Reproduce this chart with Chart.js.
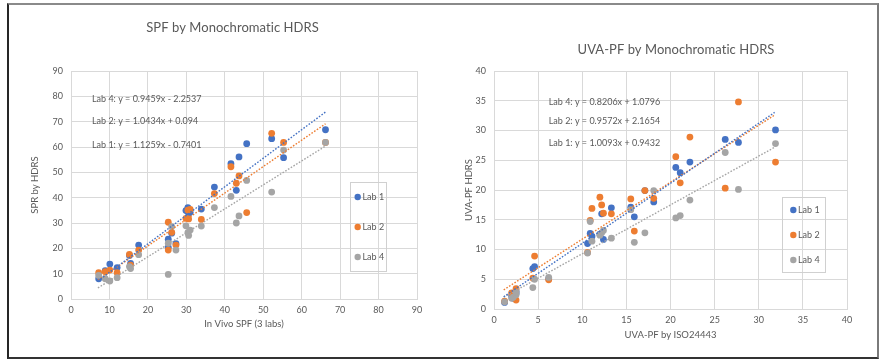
<!DOCTYPE html>
<html><head><meta charset="utf-8">
<script src="https://cdn.jsdelivr.net/npm/chart.js@4/dist/chart.umd.min.js"></script>
<style>
html,body{margin:0;padding:0;background:#fff;width:885px;height:362px;overflow:hidden;}
#frame{position:absolute;left:7px;top:3px;width:868px;height:352px;border-top:2px solid #8a8a8a;border-left:2px solid #262626;border-bottom:2px solid #333;border-right:2px solid #7a7a7a;}
#c1{position:absolute;left:0;top:0;}
#c2{position:absolute;left:443px;top:0;}
</style></head><body>
<div id="frame"></div>
<canvas id="c1" width="443" height="362"></canvas>
<canvas id="c2" width="442" height="362"></canvas>
<script>
// ---------- data: SPF chart ----------
const spfX    = [7.2, 8.9, 10.1, 12.0, 15.2, 15.5, 17.6, 25.3, 25.3, 26.2, 27.3, 29.9, 30.4, 30.6, 31.0, 33.9, 37.3, 41.6, 43.0, 43.7, 45.7, 52.2, 55.3, 66.2];
const spfLab1 = [8.0, 11.2, 13.8, 12.4, 17.2, 14.1, 21.3, 23.6, 20.4, 26.0, 21.8, 34.9, 36.1, 33.8, 34.2, 35.5, 44.2, 53.4, 42.9, 56.1, 61.3, 63.3, 55.8, 66.8];
const spfLab2 = [10.4, 10.8, 11.4, 10.4, 17.6, 13.4, 19.3, 30.3, 19.3, 26.3, 21.3, 31.8, 35.1, 31.6, 35.4, 31.4, 41.6, 52.2, 45.7, 48.6, 34.1, 65.4, 61.8, 61.8];
const spfLab4 = [9.3, 8.0, 7.1, 8.4, 12.8, 12.0, 17.5, 9.7, 22.0, 28.6, 19.3, 28.9, 26.2, 25.1, 27.2, 28.8, 36.1, 40.5, 30.0, 32.8, 46.8, 42.2, 58.8, 61.8];
const spfSlopes     = [1.1259, 1.0434, 0.9459];
const spfIntercepts = [-0.7401, 0.094, -2.2537];
const spfFitRange   = [7.0, 66.2];
const spfEquations  = ['Lab 4: y = 0.9459x - 2.2537', 'Lab 2: y = 1.0434x + 0.094', 'Lab 1: y = 1.1259x - 0.7401'];

// ---------- data: UVA-PF chart ----------
const uvaX    = [1.2, 2.0, 2.2, 2.5, 2.5, 4.4, 4.6, 6.2, 10.6, 10.9, 11.1, 12.0, 12.2, 12.4, 13.3, 15.5, 15.9, 17.1, 18.1, 20.6, 21.1, 22.2, 26.2, 27.7, 31.9];
const uvaLab1 = [1.1, 2.2, 1.8, 3.0, 2.6, 6.8, 7.1, 5.1, 11.0, 12.7, 12.2, 12.6, 16.0, 11.7, 17.0, 17.1, 15.5, 19.9, 18.0, 23.8, 22.9, 24.7, 28.5, 28.0, 30.1];
const uvaLab2 = [1.3, 2.7, 2.2, 3.4, 1.5, 5.2, 8.9, 4.9, 9.5, 14.9, 16.9, 18.8, 17.5, 16.1, 16.0, 18.5, 13.1, 19.9, 18.6, 25.6, 21.2, 28.9, 20.3, 34.8, 24.7];
const uvaLab4 = [1.2, 1.8, 2.0, 2.4, 2.8, 3.6, 5.0, 5.3, 9.4, 14.7, 11.4, 12.4, 12.8, 13.2, 11.9, 16.7, 11.2, 12.8, 19.9, 15.3, 15.7, 18.3, 26.3, 20.1, 27.8];
const uvaSlopes     = [1.0093, 0.9572, 0.8206];
const uvaIntercepts = [0.9432, 2.1654, 1.0796];
const uvaFitRange   = [1.1, 31.8];
const uvaEquations  = ['Lab 4: y = 0.8206x + 1.0796', 'Lab 2: y = 0.9572x + 2.1654', 'Lab 1: y = 1.0093x + 0.9432'];

const labNames = ['Lab 1', 'Lab 2', 'Lab 4'];

// ---------- styling ----------
const FONT = 'Lato, "Open Sans", sans-serif';
const TXT = '#595959';
const GRID = '#d9d9d9';
const COLORS = ['#4472C4', '#ED7D31', '#A5A5A5'];

function pts(xs, ys){ return xs.map((x,i)=>({x:x, y:ys[i]})); }
function fitLine(m, b, r){ return r.map(x=>({x:x, y:m*x+b})); }

const annotPlugin = {
  id: 'annot',
  afterDatasetsDraw(chart, args, o){
    const ctx = chart.ctx, xs = chart.scales.x, ys = chart.scales.y;
    ctx.save();
    ctx.fillStyle = TXT; ctx.textBaseline = 'middle';
    ctx.font = o.titleFont; ctx.textAlign = 'center';
    if ('letterSpacing' in ctx) ctx.letterSpacing = '0.05px';
    ctx.fillText(o.title, o.titleX, o.titleY);
    if ('letterSpacing' in ctx) ctx.letterSpacing = '0px';
    ctx.font = o.eqFont; ctx.textAlign = 'left';
    o.equations.forEach((t,i)=>ctx.fillText(t, xs.getPixelForValue(o.eqX), ys.getPixelForValue(o.eqY[i])));
    const L = o.legend;
    ctx.strokeStyle = '#d0d0d0'; ctx.lineWidth = 1;
    ctx.strokeRect(L.x + 0.5, L.y + 0.5, L.w, L.h);
    ctx.font = o.legendFont;
    chart.data.datasets.filter(d=>d.type !== 'line').forEach((d,i)=>{
      ctx.fillStyle = d.backgroundColor;
      ctx.beginPath(); ctx.arc(L.dotX, L.rowY[i], 3.2, 0, Math.PI*2); ctx.fill();
      ctx.fillStyle = TXT;
      ctx.fillText(d.label, L.textX, L.rowY[i]);
    });
    ctx.restore();
  }
};

function build(id, xs, labs, slopes, intercepts, range, c){
  const datasets = [];
  labs.forEach((ys,i)=>datasets.push({
    label: labNames[i], data: pts(xs, ys), backgroundColor: COLORS[i], borderColor: COLORS[i],
    pointRadius: 3.4, pointBorderWidth: 0, order: 2 - i + 1
  }));
  slopes.forEach((m,i)=>datasets.push({
    type: 'line', label: labNames[i] + ' trend', data: fitLine(m, intercepts[i], range),
    borderColor: COLORS[i], borderWidth: 1.4, borderDash: [1.6, 1.6], pointRadius: 0, fill: false, order: 0
  }));
  const tickFont = {family: FONT, size: 9};
  const titleFont = {family: FONT, size: 9.5};
  return new Chart(document.getElementById(id), {
    type: 'scatter',
    data: {datasets: datasets},
    options: {
      responsive: false, animation: false, devicePixelRatio: 1,
      layout: {padding: {left: c.padL, right: c.padR, top: 71, bottom: c.padB}},
      plugins: {
        legend: {display: false}, tooltip: {enabled: false}, title: {display: false},
        annot: c.annot
      },
      scales: {
        x: {
          type: 'linear', min: 0, max: c.xMax,
          ticks: {stepSize: c.xStep, color: TXT, font: tickFont, padding: 6},
          grid: {color: GRID, drawTicks: false}, border: {color: GRID},
          title: {display: true, text: c.xTitle, color: TXT, font: titleFont, padding: 0},
          afterFit(s){ s.height = c.xH; }
        },
        y: {
          type: 'linear', min: 0, max: c.yMax,
          ticks: {stepSize: c.yStep, color: TXT, font: tickFont, padding: 8},
          grid: {color: GRID, drawTicks: false}, border: {color: GRID},
          title: {display: true, text: c.yTitle, color: TXT, font: titleFont, padding: 0},
          afterFit(s){ s.width = c.yW; }
        }
      }
    },
    plugins: [annotPlugin]
  });
}

build('c1', spfX, [spfLab1, spfLab2, spfLab4], spfSlopes, spfIntercepts, spfFitRange, {
  padL: 29, padR: 26, padB: 32, xH: 31, yW: 42,
  xMax: 90, xStep: 10, yMax: 90, yStep: 10,
  xTitle: 'In Vivo SPF (3 labs)', yTitle: 'SPR by HDRS',
  annot: {
    title: 'SPF by Monochromatic HDRS', titleX: 232.5, titleY: 28, titleFont: '13px ' + FONT,
    equations: spfEquations, eqX: 5.45, eqY: [79, 70.3, 60.8], eqFont: '9px ' + FONT,
    legendFont: '9px ' + FONT,
    legend: {x: 350, y: 182, w: 36, h: 89, dotX: 357.7, textX: 362.5, rowY: [197, 227, 257]}
  }
});

build('c2', uvaX, [uvaLab1, uvaLab2, uvaLab4], uvaSlopes, uvaIntercepts, uvaFitRange, {
  padL: 20, padR: 38, padB: 21, xH: 32, yW: 31,
  xMax: 40, xStep: 5, yMax: 40, yStep: 5,
  xTitle: 'UVA-PF by ISO24443', yTitle: 'UVA-PF HDRS',
  annot: {
    title: 'UVA-PF by Monochromatic HDRS', titleX: 233, titleY: 50, titleFont: '13px ' + FONT,
    equations: uvaEquations, eqX: 6.2, eqY: [34.8, 31.6, 27.9], eqFont: '9px ' + FONT,
    legendFont: '9px ' + FONT,
    legend: {x: 339, y: 197, w: 43, h: 75, dotX: 350.3, textX: 355, rowY: [210, 235, 260]}
  }
});
</script>
</body></html>
